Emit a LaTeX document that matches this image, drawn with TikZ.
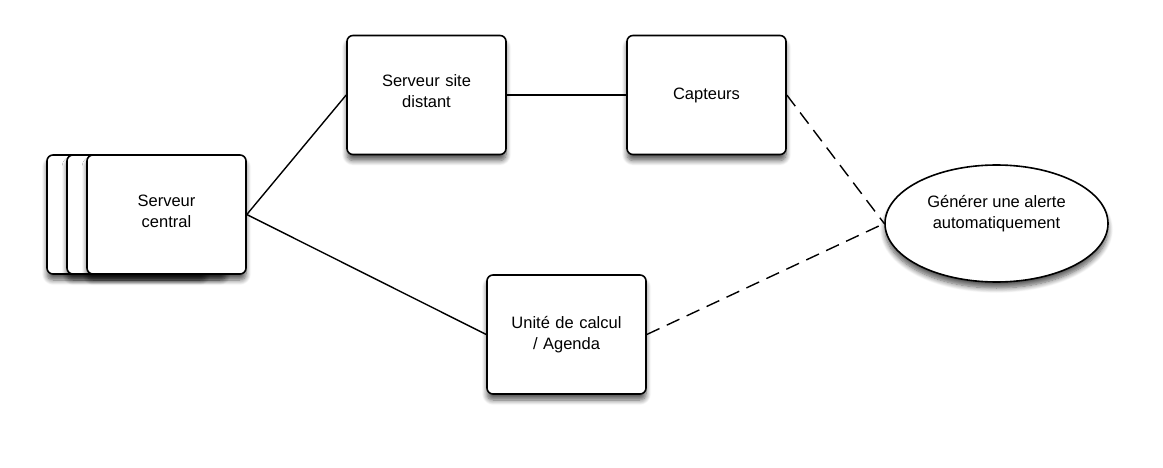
\documentclass[tikz,border=0pt]{standalone}
\usepackage{fontspec}
\setmainfont{Liberation Sans}
\usetikzlibrary{shapes.geometric, shadows.blur}

\begin{document}
\begin{tikzpicture}[
        x=1pt, y=-1pt,
        line width=1.6pt, line join=round,
        shade box/.style={
            blur shadow={shadow xshift=0pt, shadow yshift=-6pt,
                shadow blur steps=8, shadow blur radius=5pt, shadow opacity=65}
        },
        unit/.style={
            draw, fill=white, rounded corners=6pt, shade box,
            minimum width=159pt, minimum height=119pt, inner sep=0pt,
            align=center, text width=150pt,
            font=\fontsize{16.5}{21}\selectfont
        },
        event/.style={
            draw, fill=white, ellipse, shade box,
            minimum width=223pt, minimum height=117pt, inner sep=0pt,
            align=center, text depth=24pt, font=\fontsize{16.5}{21}\selectfont
        },
        link/.style={line width=1.4pt},
        trigger/.style={line width=1.4pt, dash pattern=on 14pt off 8pt}
    ]
    \useasboundingbox (0,0) rectangle (1163,468);
    % stack of central servers
    \node[unit] (central3) at (126.5,214.5) {};
    \node[unit] (central2) at (146.5,214.5) {};
    \node[unit, text depth=28pt] (central) at (166.5,214.5) {Serveur\\central};
    % other units
    \node[unit, text depth=28pt] (distant) at (426.5,95) {Serveur site\\distant};
    \node[unit] (sensors) at (706.5,95) {Capteurs};
    \node[unit] (agenda) at (566.5,334.5) {Unité de calcul\\/ Agenda};
    \node[event] (alert) at (996.5,223.5) {Générer une alerte\\automatiquement};
    % connectors
    \draw[link] (central.east) -- (distant.west);
    \draw[link] (central.east) -- (agenda.west);
    \draw[link] (distant.east) -- (sensors.west);
    \draw[trigger] (sensors.east) -- (alert.west);
    \draw[trigger] (agenda.east) -- (alert.west);
\end{tikzpicture}
\end{document}
